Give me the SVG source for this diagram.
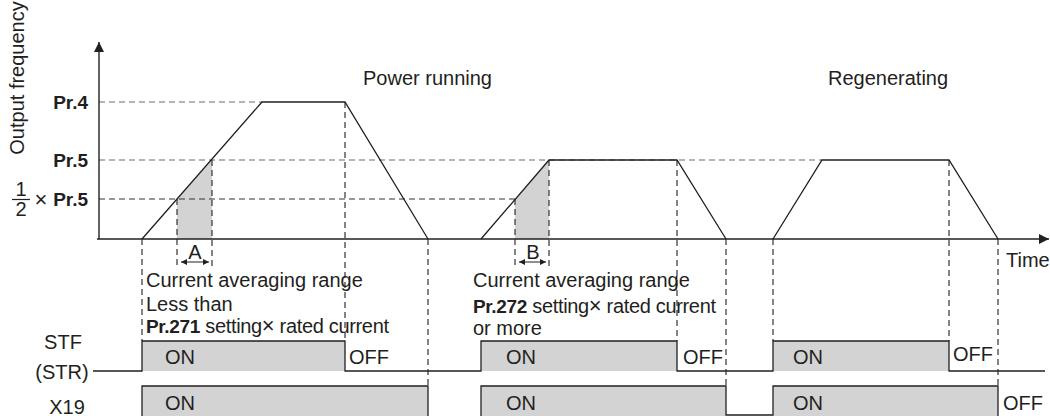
<svg xmlns="http://www.w3.org/2000/svg" width="1050" height="416" viewBox="0 0 1050 416">
<defs>
<style>
text{font-family:"Liberation Sans",Arial,Helvetica,sans-serif;font-size:20px;fill:#231f20}
.b{font-weight:bold;font-size:19px}
.ax{stroke:#231f20;stroke-width:1.4;fill:none}
.wave{stroke:#231f20;stroke-width:1.3;fill:none}
.dh{stroke:#6a6a6a;stroke-width:1.2;stroke-dasharray:6,4;fill:none}
.dk{stroke:#333;stroke-width:1.2;stroke-dasharray:6,4;fill:none}
.sh{fill:#d3d3d3;stroke:none}
.sm{stroke:#231f20;stroke-width:1;fill:none;marker-start:url(#sa);marker-end:url(#sa)}
.x{font-size:22px}
</style>
<marker id="ah" viewBox="0 0 10 10" refX="10" refY="5" markerWidth="11" markerHeight="10" markerUnits="userSpaceOnUse" orient="auto"><path d="M0,0 L10,5 L0,10 Z" fill="#231f20"/></marker>
<marker id="sa" viewBox="0 0 10 10" refX="10" refY="5" markerWidth="6" markerHeight="6" markerUnits="userSpaceOnUse" orient="auto-start-reverse"><path d="M0,0 L10,5 L0,10 Z" fill="#231f20"/></marker>
</defs>
<rect width="1050" height="416" fill="#fff"/>

<g id="shading">
<polygon class="sh" points="177,199 212,160 212,239 177,239"/>
<polygon class="sh" points="515,199 549,160 549,239 515,239"/>
<rect class="sh" x="142" y="341" width="203" height="30"/>
<rect class="sh" x="481" y="341" width="196" height="30"/>
<rect class="sh" x="773" y="341" width="176" height="30"/>
<rect class="sh" x="142" y="386" width="286" height="30"/>
<rect class="sh" x="481" y="386" width="245" height="30"/>
<rect class="sh" x="773" y="386" width="225" height="30"/>
</g>

<g id="connectors">
<path class="dh" d="M99,102 H262"/>
<path class="dh" d="M99,160 H822"/>
<path class="dk" d="M99,199 H515"/>
<path class="dk" d="M142,239 V341"/>
<path class="dk" d="M177,199 V266"/>
<path class="dk" d="M212,160 V266"/>
<path class="dk" d="M345,102 V341"/>
<path class="dk" d="M428,239 V386"/>
<path class="dk" d="M515,199 V268"/>
<path class="dk" d="M549,160 V268"/>
<path class="dk" d="M677,160 V341"/>
<path class="dk" d="M726,239 V386"/>
<path class="dk" d="M773,239 V341"/>
<path class="dk" d="M949,160 V341"/>
<path class="dk" d="M998,239 V386"/>
<path class="sm" d="M181,262 H209"/>
<path class="sm" d="M519,262 H546"/>
</g>

<g id="axes">
<path class="ax" d="M99,239 V42" marker-end="url(#ah)"/>
<path class="ax" d="M97,239 H1049" marker-end="url(#ah)"/>
</g>

<g id="frequency-curve">
<path class="wave" d="M142,239 L262,102 H345 L428,239"/>
<path class="wave" d="M481,239 L549,160 H677 L726,239"/>
<path class="wave" d="M773,239 L822,160 H949 L998,239"/>
</g>

<g id="stf-signal">
<path class="wave" d="M93,371 H142 V341 H345 V371 H481 V341 H677 V371 H773 V341 H949 V371 H1045"/>
</g>
<g id="x19-signal">
<path class="wave" d="M142,420 V386 H428 V420 M481,420 V386 H726 V415 H773 V386 H998 V420"/>
</g>

<g id="labels">
<text transform="translate(24,78) rotate(-90)" text-anchor="middle">Output frequency</text>
<text class="b" x="88" y="109" text-anchor="end">Pr.4</text>
<text class="b" x="88" y="167" text-anchor="end">Pr.5</text>
<text x="21" y="196" text-anchor="middle">1</text>
<path d="M12,199.5 H30" stroke="#231f20" stroke-width="1.2"/>
<text x="21" y="216" text-anchor="middle">2</text>
<text class="x" x="41" y="207" text-anchor="middle">×</text>
<text class="b" x="88" y="206" text-anchor="end">Pr.5</text>
<text x="363" y="85">Power running</text>
<text x="828" y="85">Regenerating</text>
<text x="1006" y="267">Time</text>
<text x="195" y="259" text-anchor="middle">A</text>
<text x="533" y="259" text-anchor="middle">B</text>
<text x="146" y="287">Current averaging range</text>
<text x="146" y="311">Less than</text>
<text x="146" y="333" textLength="243"><tspan class="b">Pr.271</tspan> setting<tspan class="x">×</tspan> rated current</text>
<text x="473" y="287">Current averaging range</text>
<text x="473" y="313" textLength="243"><tspan class="b">Pr.272</tspan> setting<tspan class="x">×</tspan> rated current</text>
<text x="473" y="335">or more</text>
<text x="63" y="349" text-anchor="middle">STF</text>
<text x="62" y="379" text-anchor="middle">(STR)</text>
<text x="67" y="414" text-anchor="middle">X19</text>
<text x="165" y="364">ON</text>
<text x="349" y="364">OFF</text>
<text x="506" y="364">ON</text>
<text x="683" y="364">OFF</text>
<text x="793" y="364">ON</text>
<text x="953" y="361">OFF</text>
<text x="165" y="410">ON</text>
<text x="506" y="410">ON</text>
<text x="793" y="410">ON</text>
<text x="1003" y="410">OFF</text>
</g>
</svg>
